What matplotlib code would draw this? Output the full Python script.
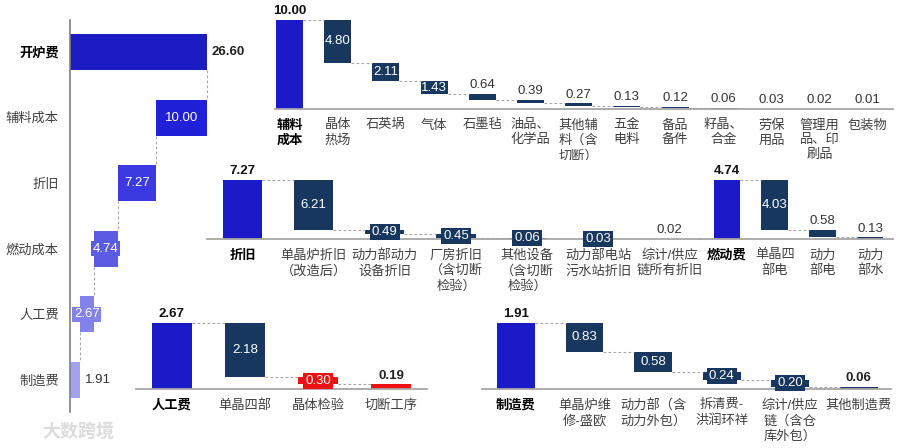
import matplotlib
matplotlib.use('Agg')
import matplotlib.pyplot as plt

FONT = ['Liberation Sans', 'Noto Sans CJK SC']
plt.rcParams['font.family'] = FONT

# ---------------- data ----------------
overview_labels = ['开炉费', '辅料成本', '折旧', '燃动成本', '人工费', '制造费']
overview_values = [26.60, 10.00, 7.27, 4.74, 2.67, 1.91]

aux_labels = ['辅料\n成本', '晶体\n热场', '石英埚', '气体', '石墨毡', '油品、\n化学品',
              '其他辅\n料（含\n切断）', '五金\n电料', '备品\n备件', '籽晶、\n合金',
              '劳保\n用品', '管理用\n品、印\n刷品', '包装物']
aux_values = [10.00, 4.80, 2.11, 1.43, 0.64, 0.39, 0.27, 0.13, 0.12, 0.06, 0.03, 0.02, 0.01]

dep_labels = ['折旧', '单晶炉折旧\n（改造后）', '动力部动力\n设备折旧', '厂房折旧\n（含切断\n检验）',
              '其他设备\n（含切断\n检验）', '动力部电站\n污水站折旧', '综计/供应\n链所有折旧']
dep_values = [7.27, 6.21, 0.49, 0.45, 0.06, 0.03, 0.02]

fuel_labels = ['燃动费', '单晶四\n部电', '动力\n部电', '动力\n部水']
fuel_values = [4.74, 4.03, 0.58, 0.13]

labor_labels = ['人工费', '单晶四部', '晶体检验', '切断工序']
labor_values = [2.67, 2.18, 0.30, 0.19]

mfg_labels = ['制造费', '单晶炉维\n修-盛欧', '动力部（含\n动力外包）', '拆清费-\n洪润环祥',
              '综计/供应\n链（含仓\n库外包）', '其他制造费']
mfg_values = [1.91, 0.83, 0.58, 0.24, 0.20, 0.06]

# ---------------- styles ----------------
TOTAL = '#1a1ac8'
NAVY = '#17375e'
RED = '#f01010'
GRID = '#a6a6a6'
TXT = '#404040'
FS = 9.5

overview_colors = ['#1c1cc4', '#2020d8', '#3a3ae0', '#5c5ce2', '#8282e8', '#a2a2ee']
overview_styles = ['out_bold', 'in', 'in', 'in', 'in', 'out']

aux_styles = ['total', 'in', 'in', 'in'] + ['above'] * 9
dep_styles = ['total', 'in', 'box', 'box', 'box', 'box', 'above']
fuel_styles = ['total', 'in', 'above', 'above']
labor_styles = ['total', 'in', 'box', 'above_bold']
mfg_styles = ['total', 'in', 'in', 'box', 'box', 'above_bold']

W, H = 900, 448
fig = plt.figure(figsize=(W / 100, H / 100), dpi=100)


def add_ax(x0, y0, x1, y1):
    return fig.add_axes([x0 / W, 1 - y1 / H, (x1 - x0) / W, (y1 - y0) / H])


# ---------------- overview (horizontal waterfall) ----------------
ax = add_ax(70, 20, 270, 412)
lefts, widths = [0.0], [overview_values[0]]
cur = overview_values[0]
for v in overview_values[1:]:
    cur = max(cur - v, 0.0)
    lefts.append(cur)
    widths.append(v)
ys = list(range(len(overview_values)))
bh = 0.55
ax.barh(ys, widths, left=lefts, height=bh, color=overview_colors)
ax.set_xlim(0, 38.8)
ax.set_ylim(len(ys) - 0.51, -0.49)
for s in ['top', 'right', 'bottom']:
    ax.spines[s].set_visible(False)
ax.spines['left'].set_color('#808080')
ax.spines['left'].set_linewidth(1.2)
ax.set_xticks([])
ax.set_yticks(ys)
ax.set_yticklabels(overview_labels, fontsize=FS, color=TXT)
ax.get_yticklabels()[0].set_fontweight('bold')
ax.get_yticklabels()[0].set_color('black')
ax.tick_params(axis='y', length=0, pad=8)
for i in range(len(ys) - 1):
    xc = lefts[i + 1] + widths[i + 1]
    ax.plot([xc, xc], [i + bh / 2, i + 1 - bh / 2], color=GRID, lw=0.8,
            ls=(0, (2.5, 2)))
for i, (l, w, st) in enumerate(zip(lefts, widths, overview_styles)):
    txt = f'{overview_values[i]:.2f}'
    if st == 'out_bold':
        ax.annotate(txt, (l + w, i), xytext=(3, 0), textcoords='offset points',
                    ha='left', va='center', fontsize=FS, fontweight='bold', color='#202020')
    elif st == 'out':
        ax.annotate(txt, (l + w, i), xytext=(4, 0), textcoords='offset points',
                    ha='left', va='center', fontsize=FS, color='#303030')
    else:
        ax.text(l + w / 2, i, txt, ha='center', va='center', fontsize=FS, color='white',
                bbox=dict(boxstyle='square,pad=0.12', fc=overview_colors[i], ec='none'))


# ---------------- vertical waterfalls ----------------
def waterfall(rect, xlim, ylim_top, labels, values, styles, colors, bw):
    ax = add_ax(*rect)
    bottoms, heights = [0.0], [values[0]]
    cur = values[0]
    for v in values[1:]:
        cur = cur - v
        bottoms.append(max(cur, 0.0))
        heights.append(v)
    xs = list(range(len(values)))
    ax.bar(xs, heights, bottom=bottoms, width=bw, color=colors)
    ax.set_xlim(*xlim)
    ax.set_ylim(0, ylim_top)
    for s in ['top', 'right', 'left']:
        ax.spines[s].set_visible(False)
    ax.spines['bottom'].set_color(GRID)
    ax.spines['bottom'].set_linewidth(1.3)
    ax.set_yticks([])
    ax.set_xticks(xs)
    ax.set_xticklabels(labels, fontsize=FS, color=TXT, linespacing=1.3, va='top')
    ax.get_xticklabels()[0].set_fontweight('bold')
    ax.get_xticklabels()[0].set_color('black')
    ax.tick_params(axis='x', length=0, pad=7.5)
    for i in range(len(xs) - 1):
        yc = bottoms[i + 1] + heights[i + 1]
        ax.plot([i + bw / 2, i + 1 - bw / 2], [yc, yc], color=GRID, lw=0.8,
                ls=(0, (2.5, 2)), zorder=1)
    for i, st in enumerate(styles):
        txt = f'{values[i]:.2f}'
        b, h = bottoms[i], heights[i]
        if st == 'total':
            ax.annotate(txt, (i, b + h), xytext=(0, 2), textcoords='offset points',
                        ha='center', va='bottom', fontsize=FS, fontweight='bold', color='#111111')
        elif st == 'above_bold':
            ax.annotate(txt, (i, b + h), xytext=(0, 2), textcoords='offset points',
                        ha='center', va='bottom', fontsize=FS, fontweight='bold', color='#222222')
        elif st == 'above':
            ax.annotate(txt, (i, b + h), xytext=(0, 2), textcoords='offset points',
                        ha='center', va='bottom', fontsize=FS, color='#333333')
        elif st == 'in':
            ax.text(i, b + h / 2, txt, ha='center', va='center', fontsize=FS, color='white')
        else:
            ax.text(i, b + h / 2, txt, ha='center', va='center', fontsize=FS, color='white',
                    bbox=dict(boxstyle='square,pad=0.15', fc=colors[i], ec='none'), zorder=5)
    return ax


waterfall((275, 5, 893, 109), (-0.30, 12.52), 104 / 8.9, aux_labels, aux_values, aux_styles,
          [TOTAL] + [NAVY] * (len(aux_values) - 1), 0.56)
waterfall((207, 160, 700, 239), (-0.5, 6.43), 79 / 8.12, dep_labels, dep_values, dep_styles,
          [TOTAL] + [NAVY] * (len(dep_values) - 1), 0.55)
waterfall((700, 160, 893, 239), (-0.566, 3.48), 79 / 12.45, fuel_labels, fuel_values, fuel_styles,
          [TOTAL] + [NAVY] * (len(fuel_values) - 1), 0.56)
waterfall((136, 305, 427, 389), (-0.49, 3.49), 84 / 24.7, labor_labels, labor_values, labor_styles,
          [TOTAL, NAVY, RED, RED], 0.55)
waterfall((482, 305, 891, 389), (-0.496, 5.47), 84 / 34.55, mfg_labels, mfg_values, mfg_styles,
          [TOTAL] + [NAVY] * (len(mfg_values) - 1), 0.55)

# watermark
fig.text(42 / W, 1 - 432 / H, '大数跨境', fontsize=13, fontweight='bold', color='#dcdcdc',
         ha='left', va='center')

fig.savefig('out.png', dpi=100)
